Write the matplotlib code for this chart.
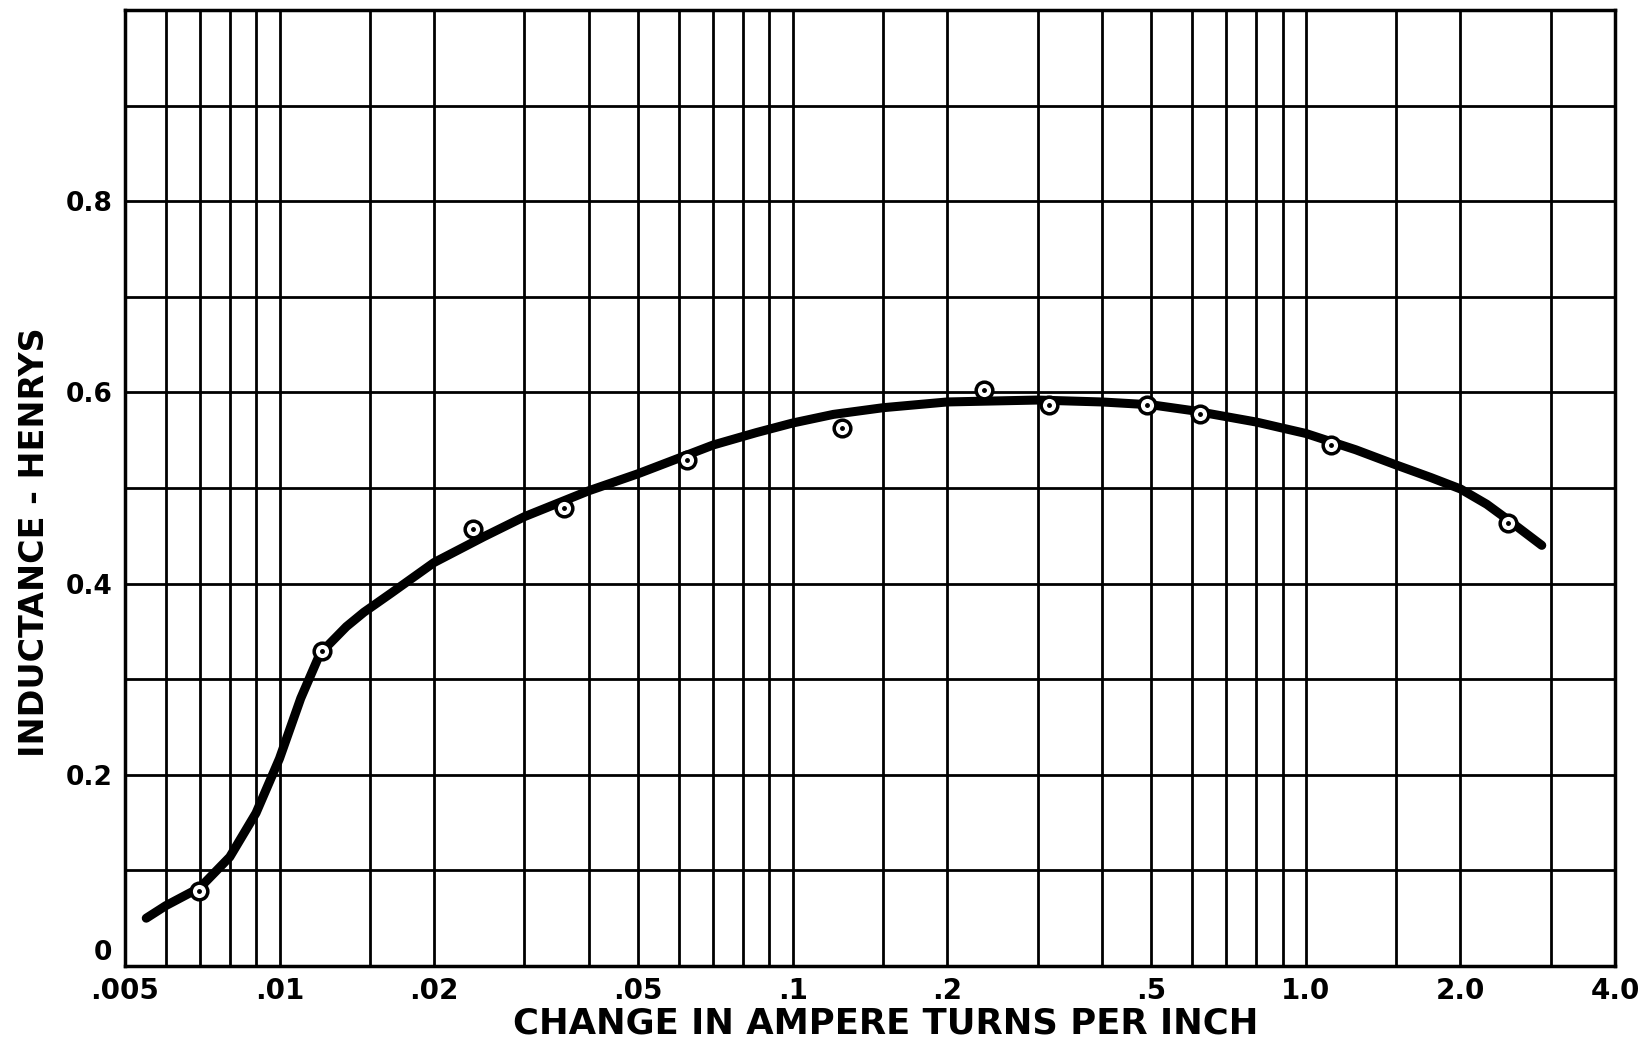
import matplotlib
matplotlib.use("Agg")
import matplotlib.pyplot as plt
from matplotlib.ticker import NullFormatter, FixedLocator

# ---- data ----
meas_x = [0.00697, 0.0121, 0.0238, 0.0358, 0.0621, 0.1245, 0.236, 0.316, 0.489, 0.621, 1.12, 2.48]
meas_y = [0.078, 0.330, 0.457, 0.479, 0.529, 0.563, 0.602, 0.587, 0.587, 0.577, 0.545, 0.463]

curve_x = [0.0055, 0.006, 0.007, 0.008, 0.009, 0.010, 0.011, 0.012, 0.0135, 0.0146,
           0.0165, 0.020, 0.025, 0.030, 0.040, 0.050, 0.070, 0.085, 0.10, 0.12,
           0.15, 0.20, 0.30, 0.40, 0.50, 0.60, 0.80, 1.0, 1.25, 1.5,
           1.75, 2.0, 2.25, 2.5, 2.88]
curve_y = [0.050, 0.063, 0.082, 0.114, 0.160, 0.217, 0.280, 0.327, 0.355, 0.370,
           0.390, 0.422, 0.449, 0.470, 0.497, 0.515, 0.545, 0.558, 0.568, 0.577,
           0.584, 0.590, 0.592, 0.590, 0.587, 0.581, 0.569, 0.557, 0.540, 0.524,
           0.511, 0.499, 0.483, 0.465, 0.440]

x_tick_vals = [0.005, 0.01, 0.02, 0.05, 0.1, 0.2, 0.5, 1.0, 2.0, 4.0]
x_tick_labels = [".005", ".01", ".02", ".05", ".1", ".2", ".5", "1.0", "2.0", "4.0"]
x_grid_vals = [0.006, 0.007, 0.008, 0.009, 0.01, 0.015, 0.02, 0.03, 0.04, 0.05,
               0.06, 0.07, 0.08, 0.09, 0.1, 0.15, 0.2, 0.3, 0.4, 0.5,
               0.6, 0.7, 0.8, 0.9, 1.0, 1.5, 2.0, 3.0]
y_tick_vals = [0, 0.2, 0.4, 0.6, 0.8]
y_tick_labels = ["0", "0.2", "0.4", "0.6", "0.8"]
y_grid_vals = [0.1, 0.2, 0.3, 0.4, 0.5, 0.6, 0.7, 0.8, 0.9]

x_label = "CHANGE IN AMPERE TURNS PER INCH"
y_label = "INDUCTANCE - HENRYS"

# ---- figure ----
plt.rcParams['font.family'] = ['DejaVu Sans']
fig = plt.figure(figsize=(16.47, 10.51), dpi=100)
fig.patch.set_facecolor("white")
ax = fig.add_axes([125/1647, 1 - 966/1051, (1615-125)/1647, (966-10)/1051])
ax.set_xscale("log")
ax.set_xlim(0.005, 4.0)
ax.set_ylim(0, 1.0)

for gx in x_grid_vals:
    ax.axvline(gx, color="black", lw=2.0, zorder=1)
for gy in y_grid_vals:
    ax.axhline(gy, color="black", lw=2.0, zorder=1)

ax.plot(curve_x, curve_y, color="black", lw=6.5, solid_capstyle="round",
        solid_joinstyle="round", zorder=3)
ax.plot(meas_x, meas_y, linestyle="none", marker="o", markersize=12,
        markerfacecolor="white", markeredgecolor="black", markeredgewidth=2.5, zorder=4)
ax.plot(meas_x, meas_y, linestyle="none", marker="o", markersize=2.5,
        markerfacecolor="black", markeredgecolor="black", zorder=5)

ax.xaxis.set_major_locator(FixedLocator(x_tick_vals))
ax.xaxis.set_minor_locator(FixedLocator([]))
ax.xaxis.set_minor_formatter(NullFormatter())
ax.set_xticks(x_tick_vals)
ax.set_xticklabels(x_tick_labels, fontsize=20, fontweight="bold")
ax.set_yticks(y_tick_vals)
ax.set_yticklabels(y_tick_labels, fontsize=19, fontweight="bold")
ax.tick_params(axis="both", which="both", length=0)
ax.tick_params(axis="x", pad=8)
ax.tick_params(axis="y", pad=9)
ax.get_yticklabels()[0].set_va("bottom")

for s in ax.spines.values():
    s.set_linewidth(2.5)
    s.set_color("black")

fig.text(886/1647, 1 - 1024/1051, x_label, fontsize=25.5, fontweight="bold",
         ha="center", va="center")
fig.text(35/1647, 1 - 542/1051, y_label, fontsize=24, fontweight="bold",
         ha="center", va="center", rotation=90)

fig.savefig("out.png", dpi=100, facecolor="white")
